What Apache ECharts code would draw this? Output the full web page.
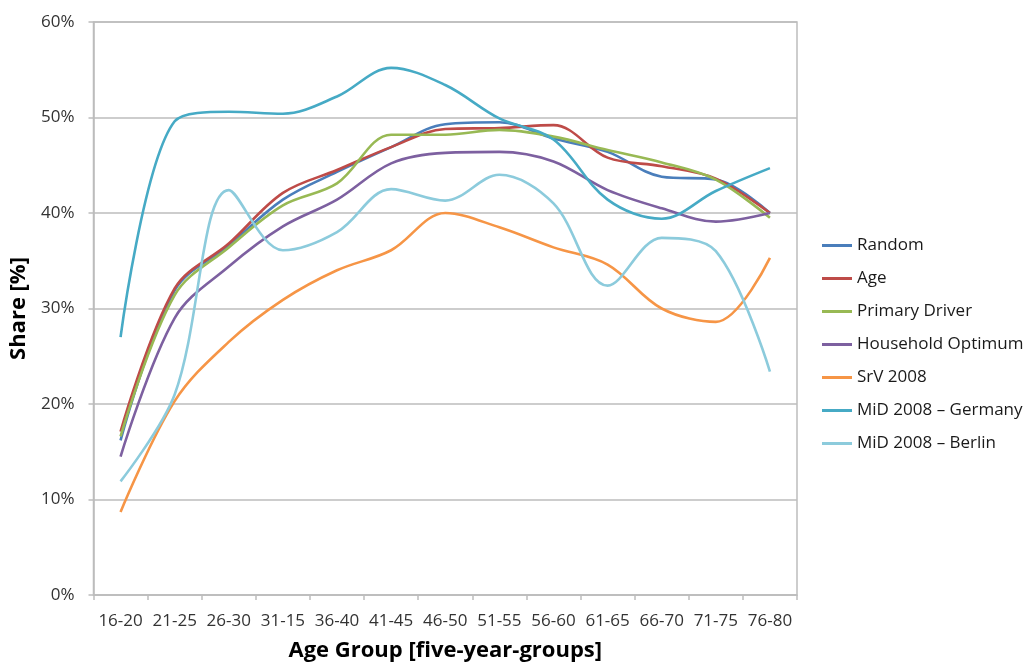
<!DOCTYPE html>
<html>
<head>
<meta charset="utf-8">
<script src="https://cdn.jsdelivr.net/npm/echarts@6/dist/echarts.min.js"></script>
<style>
html,body{margin:0;padding:0;background:#fff;}
#chart{width:1026px;height:664px;}
</style>
</head>
<body>
<div id="chart"></div>
<script>
const categories = ['16-20','21-25','26-30','31-15','36-40','41-45','46-50','51-55','56-60','61-65','66-70','71-75','76-80'];
const yTicks = [0, 10, 20, 30, 40, 50, 60];

const random    = [16.2, 31.9, 36.6, 41.4, 44.3, 46.9, 49.3, 49.5, 47.8, 46.4, 43.8, 43.5, 40.0];
const age       = [17.1, 32.1, 36.8, 42.1, 44.5, 46.9, 48.8, 48.9, 49.2, 45.8, 44.9, 43.6, 40.0];
const primary   = [16.6, 31.4, 36.4, 40.8, 43.1, 48.2, 48.2, 48.7, 48.0, 46.6, 45.3, 43.5, 39.5];
const household = [14.5, 29.0, 34.4, 38.6, 41.4, 45.2, 46.3, 46.4, 45.4, 42.4, 40.5, 39.1, 40.0];
const srv2008   = [8.7, 20.3, 26.5, 30.9, 34.0, 36.1, 40.0, 38.5, 36.4, 34.6, 30.0, 28.6, 35.3];
const midGermany= [27.0, 49.6, 50.6, 50.4, 52.2, 55.2, 53.4, 49.9, 47.7, 41.4, 39.4, 42.3, 44.7];
const midBerlin = [11.9, 21.0, 42.4, 36.1, 38.0, 42.5, 41.3, 44.0, 41.0, 32.4, 37.4, 36.0, 23.4];

const seriesNames = ['Random','Age','Primary Driver','Household Optimum','SrV 2008','MiD 2008 \u2013 Germany','MiD 2008 \u2013 Berlin'];
const seriesData = [random, age, primary, household, srv2008, midGermany, midBerlin];
const colors = ['#4a7ebb','#be4b48','#98b954','#7d60a0','#f69546','#46aac5','#8ccbdc'];

const FONT = '"Open Sans", "Noto Sans", sans-serif';
const chart = echarts.init(document.getElementById('chart'));
chart.setOption({
  animation: false,
  color: colors,
  textStyle: {fontFamily: FONT},
  grid: {left: 93.5, right: 229, top: 22, bottom: 69, show: true, borderColor: '#bdbdbd', borderWidth: 1.5,
         containLabel: false, outerBoundsMode: 'none'},
  legend: {
    orient: 'vertical', left: 817, top: 232,
    icon: 'rect', itemWidth: 30, itemHeight: 3, itemGap: 16,
    textStyle: {fontFamily: FONT, fontSize: 17, color: '#1a1a1a', lineHeight: 17},
    data: seriesNames
  },
  xAxis: {
    type: 'category', data: categories, boundaryGap: true,
    name: 'Age Group [five-year-groups]', nameLocation: 'middle', nameGap: 45,
    nameTextStyle: {fontFamily: FONT, fontSize: 22, fontWeight: 'bold', color: '#000'},
    axisLine: {show: true, lineStyle: {color: '#bdbdbd', width: 1.5}},
    axisTick: {show: true, length: 5, inside: false, lineStyle: {color: '#bdbdbd', width: 1.5}},
    axisLabel: {fontFamily: FONT, fontSize: 17, color: '#333', margin: 18, interval: 0},
    splitLine: {show: false}
  },
  yAxis: {
    type: 'value', min: yTicks[0], max: yTicks[yTicks.length-1], interval: 10,
    name: 'Share [%]', nameLocation: 'middle', nameGap: 56,
    nameTextStyle: {fontFamily: FONT, fontSize: 22, fontWeight: 'bold', color: '#000'},
    axisLine: {show: true, lineStyle: {color: '#bdbdbd', width: 1.5}},
    axisTick: {show: true, length: 5, inside: false, lineStyle: {color: '#bdbdbd', width: 1.5}},
    axisLabel: {fontFamily: FONT, fontSize: 17, color: '#333', margin: 19, formatter: '{value}%'},
    splitLine: {show: true, lineStyle: {color: '#bdbdbd', width: 1.5}}
  },
  series: seriesNames.map((n, i) => ({
    name: n, type: 'line', data: seriesData[i], smooth: 0.35, symbol: 'none',
    lineStyle: {width: 2.6, color: colors[i]}, itemStyle: {color: colors[i]}
  }))
});
</script>
</body>
</html>
